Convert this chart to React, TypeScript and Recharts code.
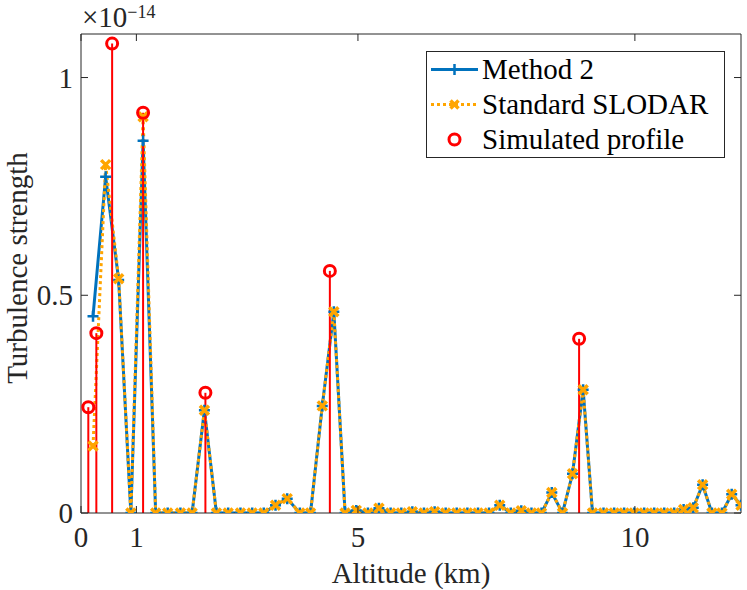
import React from 'react';
import { ComposedChart, Line, XAxis, YAxis, ReferenceLine, Legend } from 'recharts';

// Altitudes (km) of the reconstructed bins
const altitudes = [
  0.217, 0.445, 0.68, 0.9, 1.121, 1.348, 1.565, 1.795, 2.006, 2.228,
  2.445, 2.657, 2.879, 3.091, 3.3, 3.512, 3.723, 3.951, 4.144, 4.356,
  4.565, 4.768, 4.97, 5.18, 5.379, 5.59, 5.783, 5.982, 6.192, 6.385,
  6.584, 6.783, 6.976, 7.168, 7.367, 7.56, 7.759, 7.949, 8.133, 8.314,
  8.5, 8.693, 8.874, 9.066, 9.235, 9.434, 9.626, 9.806, 9.987, 10.168,
  10.349, 10.53, 10.71, 10.88, 11.054, 11.223, 11.391, 11.572, 11.748, 11.916,
];

// Turbulence strength in units of 1e-14
const method2 = [
  0.452, 0.772, 0.535, 0, 0.855, 0, 0, 0, 0, 0.236,
  0, 0, 0, 0, 0, 0.018, 0.033, 0, 0, 0.246,
  0.462, 0, 0.006, 0, 0.011, 0, 0, 0.003, 0, 0.003,
  0, 0, 0, 0, 0, 0.018, 0, 0.005, 0, 0,
  0.047, 0, 0.09, 0.283, 0, 0, 0, 0, 0, 0,
  0, 0, 0, 0.008, 0.012, 0.065, 0, 0, 0.043, 0.018,
];

const slodar = [
  0.154, 0.8, 0.538, 0, 0.91, 0, 0, 0, 0, 0.236,
  0, 0, 0, 0, 0, 0.018, 0.033, 0, 0, 0.246,
  0.462, 0, 0.006, 0, 0.011, 0, 0, 0.003, 0, 0.003,
  0, 0, 0, 0, 0, 0.018, 0, 0.005, 0, 0,
  0.047, 0, 0.09, 0.283, 0, 0, 0, 0, 0, 0,
  0, 0, 0, 0.008, 0.012, 0.065, 0, 0, 0.043, 0.018,
];

const simAltitudes = [0.132, 0.277, 0.562, 1.121, 2.246, 4.493, 8.993];
const simValues = [0.243, 0.413, 1.078, 0.919, 0.276, 0.556, 0.4];

const xTicks = [0, 1, 5, 10];
const yTicks = [0, 0.5, 1];
const xDomain = [0, 11.916];
const yDomain = [0, 1.1];

const legendNames = ['Method 2', 'Standard SLODAR', 'Simulated profile'];

const BLUE = '#0072BD';
const ORANGE = '#FFA500';
const RED = '#FF0000';
const AXIS = '#262626';
const FONT = '"Liberation Serif", "DejaVu Serif", serif';
const FS = 29;

const m2Data = altitudes.map((alt, i) => ({ alt, v: method2[i] }));
const slData = altitudes.map((alt, i) => ({ alt, v: slodar[i] }));
const simData = simAltitudes.map((alt, i) => ({ alt, v: simValues[i] }));

const PlusDot = (props: any) => {
  const { cx, cy, index } = props;
  if (cx == null || cy == null) return <g key={`m2-${index}`} />;
  const a = 5.5;
  return (
    <path
      key={`m2-${index}`}
      d={`M${cx - a},${cy}H${cx + a}M${cx},${cy - a}V${cy + a}`}
      stroke={BLUE}
      strokeWidth={2.5}
      fill="none"
    />
  );
};

const CrossDot = (props: any) => {
  const { cx, cy, index } = props;
  if (cx == null || cy == null) return <g key={`sl-${index}`} />;
  const a = 4.5;
  return (
    <path
      key={`sl-${index}`}
      d={`M${cx - a},${cy - a}L${cx + a},${cy + a}M${cx - a},${cy + a}L${cx + a},${cy - a}`}
      stroke={ORANGE}
      strokeWidth={3.5}
      fill="none"
    />
  );
};

const CircleDot = (props: any) => {
  const { cx, cy, index } = props;
  if (cx == null || cy == null) return <g key={`sim-${index}`} />;
  return <circle key={`sim-${index}`} cx={cx} cy={cy} r={5.5} stroke={RED} strokeWidth={3} fill="none" />;
};

const BottomTick = (props: any) => {
  const { x, y, payload } = props;
  return (
    <g>
      <line x1={x} x2={x} y1={y} y2={y - 7} stroke={AXIS} strokeWidth={1} />
      <text x={x} y={y + 34} textAnchor="middle" fontFamily={FONT} fontSize={FS} fill={AXIS}>
        {payload.value}
      </text>
    </g>
  );
};

const TopTick = (props: any) => {
  const { x, y } = props;
  return <line x1={x} x2={x} y1={y} y2={y + 7} stroke={AXIS} strokeWidth={1} />;
};

const LeftTick = (props: any) => {
  const { x, y, payload } = props;
  return (
    <g>
      <line x1={x} x2={x + 7} y1={y} y2={y} stroke={AXIS} strokeWidth={1} />
      <text x={x - 8} y={y} dy="0.35em" textAnchor="end" fontFamily={FONT} fontSize={FS} fill={AXIS}>
        {payload.value}
      </text>
    </g>
  );
};

const RightTick = (props: any) => {
  const { x, y } = props;
  return <line x1={x} x2={x - 7} y1={y} y2={y} stroke={AXIS} strokeWidth={1} />;
};

const renderLegend = () => {
  const rowH = 35;
  const c = rowH / 2;
  const samples = [
    (
      <svg width={55} height={rowH}>
        <line x1={4} x2={51} y1={c} y2={c} stroke={BLUE} strokeWidth={3} />
        <path d={`M${22},${c}H${33}M${27.5},${c - 5.5}V${c + 5.5}`} stroke={BLUE} strokeWidth={2.5} />
      </svg>
    ),
    (
      <svg width={55} height={rowH}>
        <line x1={4} x2={51} y1={c} y2={c} stroke={ORANGE} strokeWidth={3} strokeDasharray="3 3" />
        <path
          d={`M${23.5},${c - 4}L${31.5},${c + 4}M${23.5},${c + 4}L${31.5},${c - 4}`}
          stroke={ORANGE}
          strokeWidth={3.5}
        />
      </svg>
    ),
    (
      <svg width={55} height={rowH}>
        <circle cx={27.5} cy={c} r={5.5} stroke={RED} strokeWidth={3} fill="none" />
      </svg>
    ),
  ];
  return (
    <div
      style={{
        width: 299,
        height: 107,
        boxSizing: 'border-box',
        border: `1px solid ${AXIS}`,
        background: '#fff',
        fontFamily: FONT,
        fontSize: FS,
        color: '#000',
        paddingTop: 0,
      }}
    >
      {legendNames.map((name, i) => (
        <div key={name} style={{ display: 'flex', alignItems: 'center', height: rowH, lineHeight: `${rowH}px` }}>
          {samples[i]}
          <span style={{ whiteSpace: 'nowrap' }}>{name}</span>
        </div>
      ))}
    </div>
  );
};

export default function App() {
  return (
    <div style={{ position: 'absolute', left: 0, top: 0, width: 747, height: 590, background: '#fff' }}>
      <ComposedChart width={747} height={590} margin={{ top: 0, right: 0, bottom: 0, left: 0 }}>
        <XAxis
          dataKey="alt"
          type="number"
          domain={xDomain}
          ticks={xTicks}
          allowDataOverflow
          height={77}
          tickSize={0}
          tickMargin={0}
          tick={BottomTick}
          axisLine={{ stroke: AXIS, strokeWidth: 1 }}
          tickLine={false}
        />
        <XAxis
          xAxisId="top"
          orientation="top"
          dataKey="alt"
          type="number"
          domain={xDomain}
          ticks={xTicks}
          allowDataOverflow
          height={34}
          tickSize={0}
          tickMargin={0}
          tick={TopTick}
          axisLine={{ stroke: AXIS, strokeWidth: 1 }}
          tickLine={false}
        />
        <YAxis
          type="number"
          domain={yDomain}
          ticks={yTicks}
          allowDataOverflow
          width={81}
          tickSize={0}
          tickMargin={0}
          tick={LeftTick}
          axisLine={{ stroke: AXIS, strokeWidth: 1 }}
          tickLine={false}
        />
        <YAxis
          yAxisId="right"
          orientation="right"
          type="number"
          domain={yDomain}
          ticks={yTicks}
          allowDataOverflow
          width={6}
          tickSize={0}
          tickMargin={0}
          tick={RightTick}
          axisLine={{ stroke: AXIS, strokeWidth: 1 }}
          tickLine={false}
        />
        <Line
          data={m2Data}
          dataKey="v"
          name="Method 2"
          type="linear"
          stroke={BLUE}
          strokeWidth={3}
          dot={PlusDot}
          activeDot={false}
          isAnimationActive={false}
        />
        <Line
          data={slData}
          dataKey="v"
          name="Standard SLODAR"
          type="linear"
          stroke={ORANGE}
          strokeWidth={3}
          strokeDasharray="3 3"
          dot={CrossDot}
          activeDot={false}
          isAnimationActive={false}
        />
        {simData.map((d) => (
          <ReferenceLine
            key={`stem-${d.alt}`}
            segment={[
              { x: d.alt, y: 0 },
              { x: d.alt, y: d.v },
            ]}
            stroke={RED}
            strokeWidth={2}
          />
        ))}
        <Line
          data={simData}
          dataKey="v"
          name="Simulated profile"
          type="linear"
          stroke="none"
          dot={CircleDot}
          activeDot={false}
          isAnimationActive={false}
        />
        <Legend
          layout="vertical"
          align="center"
          verticalAlign="middle"
          content={renderLegend}
          wrapperStyle={{ left: 426, top: 51, width: 299, height: 107 }}
        />
      </ComposedChart>
      <svg
        width={747}
        height={590}
        style={{ position: 'absolute', left: 0, top: 0, pointerEvents: 'none' }}
      >
        <text x={82} y={27} fontFamily={FONT} fontSize={FS} fill={AXIS}>
          ×10
          <tspan dy={-9} fontSize={18}>
            −14
          </tspan>
        </text>
        <text x={411} y={583} textAnchor="middle" fontFamily={FONT} fontSize={FS} fill={AXIS}>
          Altitude (km)
        </text>
        <text
          transform="translate(27,268) rotate(-90)"
          textAnchor="middle"
          fontFamily={FONT}
          fontSize={FS}
          fill={AXIS}
        >
          Turbulence strength
        </text>
      </svg>
    </div>
  );
}
